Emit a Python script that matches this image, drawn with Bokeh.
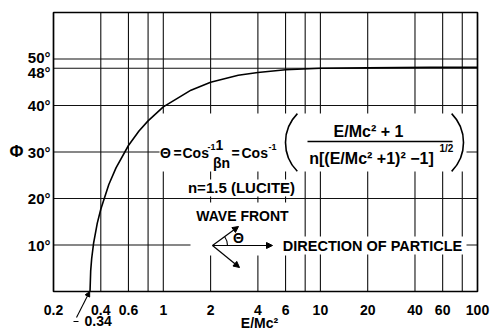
from bokeh.plotting import figure
from bokeh.models import Range1d, Label, Arrow, NormalHead
from bokeh.embed import file_html
from bokeh.resources import INLINE

# Cherenkov angle in Lucite (n = 1.5) versus kinetic energy E/Mc^2
energy_ratio = [0.3416, 0.345, 0.35, 0.36, 0.38, 0.40, 0.45, 0.5, 0.6, 0.7,
                0.8, 1.0, 1.5, 2.0, 3.0, 4.0, 6.0, 10.0, 20.0, 50.0, 100.0]
angle_deg = [0.0, 4.5, 7.1, 10.4, 14.7, 17.7, 23.0, 26.6, 31.4, 34.5,
             36.7, 39.7, 43.3, 45.0, 46.5, 47.1, 47.7, 48.0, 48.1, 48.2, 48.2]

x_tick_values = [0.2, 0.4, 0.6, 1, 2, 4, 6, 10, 20, 40, 60, 100]
x_tick_labels = ["0.2", "0.4", "0.6", "1", "2", "4", "6", "10", "20", "40", "60", "100"]
x_grid_values = [0.4, 0.6, 0.8, 1, 2, 4, 6, 8, 10, 20, 40, 60, 80]
y_grid_values = [10, 20, 30, 40, 48, 50]
y_tick_labels = ["10°", "20°", "30°", "40°", "48°", "50°"]
threshold = 0.34

# plot box in canvas pixels, and its data limits
W, H = 491, 331
FL, FR, FT, FB = 53, 477, 12, 291
X0, X1, Y0, Y1 = 0.2, 100.0, 0.0, 60.0


def dx(px):
    return X0 * (X1 / X0) ** ((px - FL) / (FR - FL))


def dy(py):
    return Y0 + (FB - py) / (FB - FT) * (Y1 - Y0)


FONT = "Liberation Sans"

# the frame spans the whole canvas; the graph box is drawn inside it
p = figure(width=W, height=H, x_axis_type="log",
           x_range=Range1d(dx(0), dx(W)), y_range=Range1d(dy(H), dy(0)),
           x_axis_location=None, y_axis_location=None,
           min_border=0, toolbar_location=None, output_backend="svg")
p.background_fill_color = "white"
p.border_fill_color = "white"
p.outline_line_color = None
p.grid.visible = False

# grid lines
p.segment(x0=x_grid_values, y0=[Y0] * len(x_grid_values),
          x1=x_grid_values, y1=[Y1] * len(x_grid_values),
          line_color="#111111", line_width=1.1)
p.segment(x0=[X0] * len(y_grid_values), y0=y_grid_values,
          x1=[X1] * len(y_grid_values), y1=y_grid_values,
          line_color="#111111", line_width=1.1)

# white panels behind the annotations
panels = [(159, 466, 113, 171), (183, 300, 179, 196),
          (190, 295, 202, 255), (275, 466, 236, 254)]
p.quad(left=[dx(a[0]) for a in panels], right=[dx(a[1]) for a in panels],
       top=[dy(a[2]) for a in panels], bottom=[dy(a[3]) for a in panels],
       fill_color="white", line_color=None)

# graph box
p.quad(left=[X0], right=[X1], bottom=[Y0], top=[Y1],
       fill_color=None, line_color="black", line_width=1.7)

# curve
p.line(energy_ratio, angle_deg, line_color="black", line_width=1.6)


def txt(px, py, s, size="14px", align="left", style="bold"):
    p.add_layout(Label(x=dx(px), y=dy(py), text=s, text_align=align,
                       text_baseline="middle", text_font=FONT,
                       text_font_style=style, text_font_size=size,
                       text_color="black"))


# tick labels
for v, t in zip(x_tick_values, x_tick_labels):
    p.add_layout(Label(x=v, y=dy(309), text=t, text_align="center",
                       text_baseline="middle", text_font=FONT,
                       text_font_style="bold", text_font_size="14px",
                       text_color="black"))
y_shift = {48: -4, 50: 2}
for v, t in zip(y_grid_values, y_tick_labels):
    p.add_layout(Label(x=dx(50), y=v, text=t, y_offset=y_shift.get(v, 0),
                       text_align="right", text_baseline="middle",
                       text_font=FONT, text_font_style="bold",
                       text_font_size="15px", text_color="black"))

# axis titles
txt(16, 151, "Φ", size="17px", align="center")
txt(259, 322, "E/Mc²", align="center")

# formula
txt(165, 152, "Θ", align="center")
txt(173, 152, "=")
txt(182, 152, "Cos")
txt(207, 146, "-1", size="9px")
txt(219, 144, "1", align="center")
txt(221, 162, "βn", align="center")
txt(231, 152, "=")
txt(241, 152, "Cos")
txt(268, 146, "-1", size="9px")
txt(368, 131, "E/Mc² + 1", size="16px", align="center")
txt(371, 158, "n[(E/Mc² +1)² −1]", size="16px", align="center")
txt(439, 148, "1/2", size="10px")
p.segment(x0=[dx(307)], y0=[dy(141)], x1=[dx(452)], y1=[dy(141)],
          line_color="black", line_width=1.4)
# large parentheses
p.arc(x=[dx(326), dx(422)], y=[dy(142), dy(142)], radius=41, radius_units="screen",
      start_angle=[2.36, -0.78], end_angle=[3.92, 0.78],
      line_color="black", line_width=1.6)

txt(241, 187, "n=1.5 (LUCITE)", size="15px", align="center")
txt(242, 215, "WAVE FRONT", align="center")
txt(372, 245, "DIRECTION OF PARTICLE", size="14.5px", align="center")

# wave-front sketch
ox, oy = 212, 245
for ex, ey in [(238, 226), (239, 267), (272, 245)]:
    p.add_layout(Arrow(x_start=dx(ox), y_start=dy(oy), x_end=dx(ex), y_end=dy(ey),
                       line_color="black", line_width=1.2,
                       end=NormalHead(size=6, fill_color="black", line_color="black")))
p.arc(x=[dx(ox)], y=[dy(oy)], radius=15, radius_units="screen",
      start_angle=0.0, end_angle=0.62, line_color="black", line_width=1.1)
txt(238, 237, "Θ", align="center")

# threshold marker
p.add_layout(Arrow(x_start=dx(76), y_start=dy(317), x_end=threshold, y_end=Y0,
                   line_color="black", line_width=1.1,
                   end=NormalHead(size=5, fill_color="black", line_color="black")))
p.segment(x0=[dx(73)], y0=[dy(321)], x1=[dx(78)], y1=[dy(321)],
          line_color="black", line_width=1.1)
txt(84, 320, "0.34")

open("out.html", "w").write(file_html(p, INLINE))
